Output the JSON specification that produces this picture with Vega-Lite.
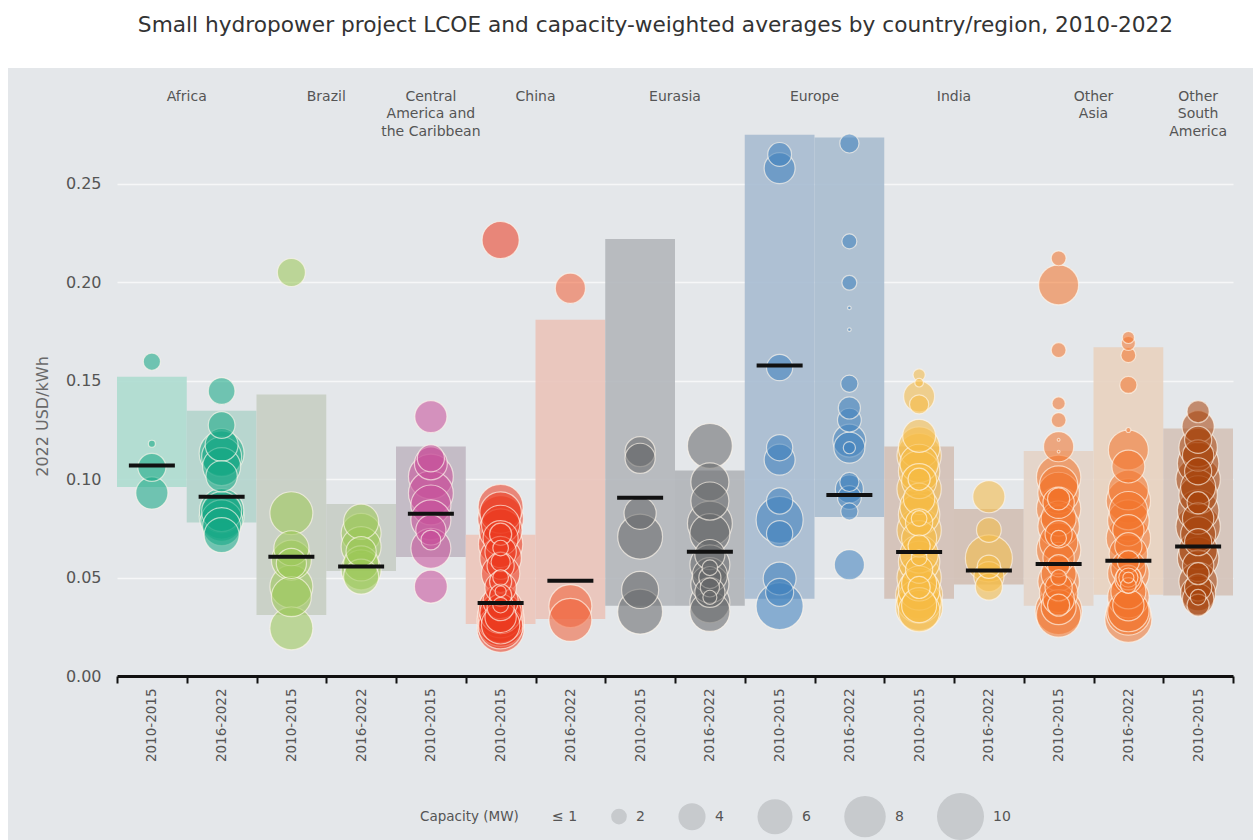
{
  "$schema": "https://vega.github.io/schema/vega-lite/v6.json",
  "width": 1245,
  "height": 772,
  "autosize": "none",
  "padding": {"left": 8, "top": 68, "right": 0, "bottom": 0},
  "background": "white",
  "title": {
    "text": "Small hydropower project LCOE and capacity-weighted averages by country/region, 2010-2022",
    "anchor": "middle",
    "font": "DejaVu Sans",
    "fontSize": 21.7,
    "fontWeight": "normal",
    "color": "#333333",
    "offset": 31,
    "dx": 25
  },
  "config": {
    "view": {"fill": "#e4e7ea", "stroke": null},
    "font": "DejaVu Sans"
  },
  "datasets": {
    "bands": [
      {"col": "Africa|2010-2015", "lo": 0.096, "hi": 0.152, "avg": 0.107},
      {"col": "Africa|2016-2022", "lo": 0.078, "hi": 0.1347, "avg": 0.0911},
      {"col": "Brazil|2010-2015", "lo": 0.031, "hi": 0.143, "avg": 0.0606},
      {"col": "Brazil|2016-2022", "lo": 0.0533, "hi": 0.0874, "avg": 0.0556},
      {"col": "Central America and the Caribbean|2010-2015", "lo": 0.0605, "hi": 0.1166, "avg": 0.0824},
      {"col": "China|2010-2015", "lo": 0.0264, "hi": 0.0718, "avg": 0.0371},
      {"col": "China|2016-2022", "lo": 0.029, "hi": 0.181, "avg": 0.0484},
      {"col": "Eurasia|2010-2015", "lo": 0.0357, "hi": 0.222, "avg": 0.0905},
      {"col": "Eurasia|2016-2022", "lo": 0.0357, "hi": 0.1044, "avg": 0.0631},
      {"col": "Europe|2010-2015", "lo": 0.0392, "hi": 0.275, "avg": 0.1577},
      {"col": "Europe|2016-2022", "lo": 0.0808, "hi": 0.2736, "avg": 0.092},
      {"col": "India|2010-2015", "lo": 0.0392, "hi": 0.1166, "avg": 0.063},
      {"col": "India|2016-2022", "lo": 0.0465, "hi": 0.0849, "avg": 0.0536},
      {"col": "Other Asia|2010-2015", "lo": 0.0357, "hi": 0.1143, "avg": 0.0569},
      {"col": "Other Asia|2016-2022", "lo": 0.0413, "hi": 0.167, "avg": 0.0585},
      {"col": "Other South America|2010-2015", "lo": 0.0409, "hi": 0.1257, "avg": 0.0658}
    ],
    "labels2": [
      {"col": "Africa|2010-2015", "t": "Africa"},
      {"col": "Brazil|2010-2015", "t": "Brazil"},
      {"col": "China|2010-2015", "t": "China"},
      {"col": "Eurasia|2010-2015", "t": "Eurasia"},
      {"col": "Europe|2010-2015", "t": "Europe"},
      {"col": "India|2010-2015", "t": "India"},
      {"col": "Other Asia|2010-2015", "t": "Other\nAsia"}
    ],
    "labels1": [
      {"col": "Central America and the Caribbean|2010-2015", "t": "Central\nAmerica and\nthe Caribbean"},
      {"col": "Other South America|2010-2015", "t": "Other\nSouth\nAmerica"}
    ],
    "bubbles": [
      {"col": "Africa|2010-2015", "v": 0.1597, "c": 2.2},
      {"col": "Africa|2010-2015", "v": 0.118, "c": 1.2},
      {"col": "Africa|2010-2015", "v": 0.106, "c": 4.2},
      {"col": "Africa|2010-2015", "v": 0.093, "c": 5.2},

      {"col": "Africa|2016-2022", "v": 0.1448, "c": 3.9},
      {"col": "Africa|2016-2022", "v": 0.1275, "c": 3.9},
      {"col": "Africa|2016-2022", "v": 0.1174, "c": 5.4},
      {"col": "Africa|2016-2022", "v": 0.1131, "c": 9.2},
      {"col": "Africa|2016-2022", "v": 0.1114, "c": 7.5},
      {"col": "Africa|2016-2022", "v": 0.1064, "c": 6.9},
      {"col": "Africa|2016-2022", "v": 0.1015, "c": 5.0},
      {"col": "Africa|2016-2022", "v": 0.0835, "c": 7.5},
      {"col": "Africa|2016-2022", "v": 0.084, "c": 9.0},
      {"col": "Africa|2016-2022", "v": 0.081, "c": 9.2},
      {"col": "Africa|2016-2022", "v": 0.079, "c": 8.0},
      {"col": "Africa|2016-2022", "v": 0.0759, "c": 6.9},
      {"col": "Africa|2016-2022", "v": 0.0716, "c": 6.0},

      {"col": "Brazil|2010-2015", "v": 0.205, "c": 4.2},
      {"col": "Brazil|2010-2015", "v": 0.0827, "c": 8.5},
      {"col": "Brazil|2010-2015", "v": 0.0649, "c": 6},
      {"col": "Brazil|2010-2015", "v": 0.0589, "c": 7.5},
      {"col": "Brazil|2010-2015", "v": 0.0572, "c": 4.7},
      {"col": "Brazil|2010-2015", "v": 0.0454, "c": 8.5},
      {"col": "Brazil|2010-2015", "v": 0.0403, "c": 7.5},
      {"col": "Brazil|2010-2015", "v": 0.0242, "c": 8.5},

      {"col": "Brazil|2016-2022", "v": 0.0784, "c": 6},
      {"col": "Brazil|2016-2022", "v": 0.0725, "c": 7.5},
      {"col": "Brazil|2016-2022", "v": 0.0657, "c": 7.5},
      {"col": "Brazil|2016-2022", "v": 0.0632, "c": 4.7},
      {"col": "Brazil|2016-2022", "v": 0.0572, "c": 6},
      {"col": "Brazil|2016-2022", "v": 0.0539, "c": 7.5},
      {"col": "Brazil|2016-2022", "v": 0.0505, "c": 6},

      {"col": "Central America and the Caribbean|2010-2015", "v": 0.1318, "c": 5.2},
      {"col": "Central America and the Caribbean|2010-2015", "v": 0.1106, "c": 4},
      {"col": "Central America and the Caribbean|2010-2015", "v": 0.108, "c": 5.4},
      {"col": "Central America and the Caribbean|2010-2015", "v": 0.1013, "c": 9.2},
      {"col": "Central America and the Caribbean|2010-2015", "v": 0.0928, "c": 9.2},
      {"col": "Central America and the Caribbean|2010-2015", "v": 0.0869, "c": 7.5},
      {"col": "Central America and the Caribbean|2010-2015", "v": 0.0793, "c": 7.5},
      {"col": "Central America and the Caribbean|2010-2015", "v": 0.0742, "c": 4.7},
      {"col": "Central America and the Caribbean|2010-2015", "v": 0.0691, "c": 2.6},
      {"col": "Central America and the Caribbean|2010-2015", "v": 0.0649, "c": 7.5},
      {"col": "Central America and the Caribbean|2010-2015", "v": 0.0454, "c": 5.4},

      {"col": "China|2010-2015", "v": 0.2215, "c": 6.6},
      {"col": "China|2010-2015", "v": 0.086, "c": 9.2},
      {"col": "China|2010-2015", "v": 0.083, "c": 8},
      {"col": "China|2010-2015", "v": 0.080, "c": 9.5},
      {"col": "China|2010-2015", "v": 0.077, "c": 7},
      {"col": "China|2010-2015", "v": 0.074, "c": 8.5},
      {"col": "China|2010-2015", "v": 0.070, "c": 6},
      {"col": "China|2010-2015", "v": 0.067, "c": 9},
      {"col": "China|2010-2015", "v": 0.063, "c": 5},
      {"col": "China|2010-2015", "v": 0.060, "c": 8},
      {"col": "China|2010-2015", "v": 0.056, "c": 4},
      {"col": "China|2010-2015", "v": 0.052, "c": 7},
      {"col": "China|2010-2015", "v": 0.048, "c": 3},
      {"col": "China|2010-2015", "v": 0.045, "c": 5},
      {"col": "China|2010-2015", "v": 0.041, "c": 3},
      {"col": "China|2010-2015", "v": 0.038, "c": 6},
      {"col": "China|2010-2015", "v": 0.035, "c": 4},
      {"col": "China|2010-2015", "v": 0.032, "c": 8},
      {"col": "China|2010-2015", "v": 0.030, "c": 5},
      {"col": "China|2010-2015", "v": 0.028, "c": 9},
      {"col": "China|2010-2015", "v": 0.026, "c": 7},
      {"col": "China|2010-2015", "v": 0.024, "c": 10},
      {"col": "China|2010-2015", "v": 0.027, "c": 10},
      {"col": "China|2010-2015", "v": 0.031, "c": 9.5},
      {"col": "China|2010-2015", "v": 0.034, "c": 9},
      {"col": "China|2010-2015", "v": 0.029, "c": 10},
      {"col": "China|2010-2015", "v": 0.025, "c": 9},
      {"col": "China|2010-2015", "v": 0.036, "c": 2},
      {"col": "China|2010-2015", "v": 0.043, "c": 1.5},
      {"col": "China|2010-2015", "v": 0.050, "c": 2},
      {"col": "China|2010-2015", "v": 0.058, "c": 2.5},
      {"col": "China|2010-2015", "v": 0.065, "c": 2},
      {"col": "China|2010-2015", "v": 0.072, "c": 3},

      {"col": "China|2016-2022", "v": 0.197, "c": 4.7},
      {"col": "China|2016-2022", "v": 0.0355, "c": 8.5},
      {"col": "China|2016-2022", "v": 0.0285, "c": 8.5},

      {"col": "Eurasia|2010-2015", "v": 0.114, "c": 4.7},
      {"col": "Eurasia|2010-2015", "v": 0.1106, "c": 4.7},
      {"col": "Eurasia|2010-2015", "v": 0.0827, "c": 5.2},
      {"col": "Eurasia|2010-2015", "v": 0.0708, "c": 9.2},
      {"col": "Eurasia|2010-2015", "v": 0.0437, "c": 6.6},
      {"col": "Eurasia|2010-2015", "v": 0.0327, "c": 9.2},

      {"col": "Eurasia|2016-2022", "v": 0.1169, "c": 9.2},
      {"col": "Eurasia|2016-2022", "v": 0.0986, "c": 6.9},
      {"col": "Eurasia|2016-2022", "v": 0.0889, "c": 6.9},
      {"col": "Eurasia|2016-2022", "v": 0.0775, "c": 9.2},
      {"col": "Eurasia|2016-2022", "v": 0.0723, "c": 7.5},
      {"col": "Eurasia|2016-2022", "v": 0.0617, "c": 4.7},
      {"col": "Eurasia|2016-2022", "v": 0.0565, "c": 7.5},
      {"col": "Eurasia|2016-2022", "v": 0.0512, "c": 6},
      {"col": "Eurasia|2016-2022", "v": 0.0468, "c": 6.9},
      {"col": "Eurasia|2016-2022", "v": 0.0425, "c": 4.7},
      {"col": "Eurasia|2016-2022", "v": 0.0372, "c": 7.5},
      {"col": "Eurasia|2016-2022", "v": 0.0328, "c": 7.5},
      {"col": "Eurasia|2016-2022", "v": 0.055, "c": 2},
      {"col": "Eurasia|2016-2022", "v": 0.045, "c": 2.5},
      {"col": "Eurasia|2016-2022", "v": 0.040, "c": 1.8},
      {"col": "Eurasia|2016-2022", "v": 0.050, "c": 3},

      {"col": "Europe|2010-2015", "v": 0.265, "c": 3.3},
      {"col": "Europe|2010-2015", "v": 0.258, "c": 4.9},
      {"col": "Europe|2010-2015", "v": 0.1567, "c": 3.8},
      {"col": "Europe|2010-2015", "v": 0.116, "c": 3.8},
      {"col": "Europe|2010-2015", "v": 0.1099, "c": 4.9},
      {"col": "Europe|2010-2015", "v": 0.0889, "c": 3.8},
      {"col": "Europe|2010-2015", "v": 0.0793, "c": 10},
      {"col": "Europe|2010-2015", "v": 0.0723, "c": 3.8},
      {"col": "Europe|2010-2015", "v": 0.0495, "c": 5.4},
      {"col": "Europe|2010-2015", "v": 0.0425, "c": 4.2},
      {"col": "Europe|2010-2015", "v": 0.0355, "c": 10},

      {"col": "Europe|2016-2022", "v": 0.2706, "c": 2.5},
      {"col": "Europe|2016-2022", "v": 0.2208, "c": 1.9},
      {"col": "Europe|2016-2022", "v": 0.1998, "c": 1.9},
      {"col": "Europe|2016-2022", "v": 0.187, "c": 1.05},
      {"col": "Europe|2016-2022", "v": 0.176, "c": 1.05},
      {"col": "Europe|2016-2022", "v": 0.1485, "c": 2.2},
      {"col": "Europe|2016-2022", "v": 0.1362, "c": 3},
      {"col": "Europe|2016-2022", "v": 0.13, "c": 3.3},
      {"col": "Europe|2016-2022", "v": 0.1196, "c": 5.4},
      {"col": "Europe|2016-2022", "v": 0.116, "c": 4.9},
      {"col": "Europe|2016-2022", "v": 0.116, "c": 1.6},
      {"col": "Europe|2016-2022", "v": 0.0986, "c": 2.5},
      {"col": "Europe|2016-2022", "v": 0.095, "c": 4.2},
      {"col": "Europe|2016-2022", "v": 0.0907, "c": 3.3},
      {"col": "Europe|2016-2022", "v": 0.0836, "c": 2.2},
      {"col": "Europe|2016-2022", "v": 0.0565, "c": 4.7},

      {"col": "India|2010-2015", "v": 0.153, "c": 1.6},
      {"col": "India|2010-2015", "v": 0.149, "c": 1.3},
      {"col": "India|2010-2015", "v": 0.142, "c": 4.9},
      {"col": "India|2010-2015", "v": 0.138, "c": 2.5},
      {"col": "India|2010-2015", "v": 0.122, "c": 5.4},
      {"col": "India|2010-2015", "v": 0.116, "c": 8},
      {"col": "India|2010-2015", "v": 0.112, "c": 9},
      {"col": "India|2010-2015", "v": 0.108, "c": 7},
      {"col": "India|2010-2015", "v": 0.104, "c": 8},
      {"col": "India|2010-2015", "v": 0.099, "c": 6},
      {"col": "India|2010-2015", "v": 0.095, "c": 9},
      {"col": "India|2010-2015", "v": 0.090, "c": 5},
      {"col": "India|2010-2015", "v": 0.086, "c": 7},
      {"col": "India|2010-2015", "v": 0.082, "c": 8},
      {"col": "India|2010-2015", "v": 0.078, "c": 4},
      {"col": "India|2010-2015", "v": 0.074, "c": 9},
      {"col": "India|2010-2015", "v": 0.070, "c": 6},
      {"col": "India|2010-2015", "v": 0.066, "c": 3},
      {"col": "India|2010-2015", "v": 0.062, "c": 7},
      {"col": "India|2010-2015", "v": 0.058, "c": 8},
      {"col": "India|2010-2015", "v": 0.054, "c": 4},
      {"col": "India|2010-2015", "v": 0.050, "c": 9},
      {"col": "India|2010-2015", "v": 0.047, "c": 6},
      {"col": "India|2010-2015", "v": 0.044, "c": 8},
      {"col": "India|2010-2015", "v": 0.041, "c": 10},
      {"col": "India|2010-2015", "v": 0.038, "c": 9},
      {"col": "India|2010-2015", "v": 0.035, "c": 10},
      {"col": "India|2010-2015", "v": 0.033, "c": 8},
      {"col": "India|2010-2015", "v": 0.036, "c": 6},
      {"col": "India|2010-2015", "v": 0.045, "c": 3},
      {"col": "India|2010-2015", "v": 0.060, "c": 2},
      {"col": "India|2010-2015", "v": 0.080, "c": 2},
      {"col": "India|2010-2015", "v": 0.100, "c": 3},

      {"col": "India|2016-2022", "v": 0.0911, "c": 5.2},
      {"col": "India|2016-2022", "v": 0.0742, "c": 3.5},
      {"col": "India|2016-2022", "v": 0.0598, "c": 10},
      {"col": "India|2016-2022", "v": 0.0555, "c": 3.2},
      {"col": "India|2016-2022", "v": 0.0505, "c": 4.7},
      {"col": "India|2016-2022", "v": 0.0454, "c": 4},

      {"col": "Other Asia|2010-2015", "v": 0.2122, "c": 1.9},
      {"col": "Other Asia|2010-2015", "v": 0.1987, "c": 7.5},
      {"col": "Other Asia|2010-2015", "v": 0.1656, "c": 1.9},
      {"col": "Other Asia|2010-2015", "v": 0.1385, "c": 1.7},
      {"col": "Other Asia|2010-2015", "v": 0.130, "c": 1.9},
      {"col": "Other Asia|2010-2015", "v": 0.1165, "c": 4.7},
      {"col": "Other Asia|2010-2015", "v": 0.12, "c": 1.03},
      {"col": "Other Asia|2010-2015", "v": 0.114, "c": 1.03},
      {"col": "Other Asia|2010-2015", "v": 0.101, "c": 9},
      {"col": "Other Asia|2010-2015", "v": 0.097, "c": 7},
      {"col": "Other Asia|2010-2015", "v": 0.093, "c": 8},
      {"col": "Other Asia|2010-2015", "v": 0.088, "c": 5},
      {"col": "Other Asia|2010-2015", "v": 0.085, "c": 9},
      {"col": "Other Asia|2010-2015", "v": 0.080, "c": 6},
      {"col": "Other Asia|2010-2015", "v": 0.076, "c": 8},
      {"col": "Other Asia|2010-2015", "v": 0.072, "c": 4},
      {"col": "Other Asia|2010-2015", "v": 0.068, "c": 7},
      {"col": "Other Asia|2010-2015", "v": 0.064, "c": 9},
      {"col": "Other Asia|2010-2015", "v": 0.060, "c": 5},
      {"col": "Other Asia|2010-2015", "v": 0.056, "c": 3},
      {"col": "Other Asia|2010-2015", "v": 0.052, "c": 6},
      {"col": "Other Asia|2010-2015", "v": 0.048, "c": 8},
      {"col": "Other Asia|2010-2015", "v": 0.045, "c": 4},
      {"col": "Other Asia|2010-2015", "v": 0.042, "c": 7},
      {"col": "Other Asia|2010-2015", "v": 0.039, "c": 5},
      {"col": "Other Asia|2010-2015", "v": 0.036, "c": 3},
      {"col": "Other Asia|2010-2015", "v": 0.035, "c": 6},
      {"col": "Other Asia|2010-2015", "v": 0.031, "c": 9},
      {"col": "Other Asia|2010-2015", "v": 0.033, "c": 10},
      {"col": "Other Asia|2010-2015", "v": 0.050, "c": 2},
      {"col": "Other Asia|2010-2015", "v": 0.070, "c": 2},
      {"col": "Other Asia|2010-2015", "v": 0.090, "c": 3},

      {"col": "Other Asia|2016-2022", "v": 0.172, "c": 1.6},
      {"col": "Other Asia|2016-2022", "v": 0.169, "c": 1.8},
      {"col": "Other Asia|2016-2022", "v": 0.163, "c": 1.9},
      {"col": "Other Asia|2016-2022", "v": 0.1479, "c": 2.2},
      {"col": "Other Asia|2016-2022", "v": 0.125, "c": 1.1},
      {"col": "Other Asia|2016-2022", "v": 0.1148, "c": 7.5},
      {"col": "Other Asia|2016-2022", "v": 0.1064, "c": 5.4},
      {"col": "Other Asia|2016-2022", "v": 0.0945, "c": 7.5},
      {"col": "Other Asia|2016-2022", "v": 0.089, "c": 9},
      {"col": "Other Asia|2016-2022", "v": 0.084, "c": 7},
      {"col": "Other Asia|2016-2022", "v": 0.079, "c": 8},
      {"col": "Other Asia|2016-2022", "v": 0.074, "c": 5},
      {"col": "Other Asia|2016-2022", "v": 0.070, "c": 9},
      {"col": "Other Asia|2016-2022", "v": 0.066, "c": 4},
      {"col": "Other Asia|2016-2022", "v": 0.062, "c": 7},
      {"col": "Other Asia|2016-2022", "v": 0.058, "c": 3},
      {"col": "Other Asia|2016-2022", "v": 0.055, "c": 6},
      {"col": "Other Asia|2016-2022", "v": 0.052, "c": 8},
      {"col": "Other Asia|2016-2022", "v": 0.049, "c": 4},
      {"col": "Other Asia|2016-2022", "v": 0.046, "c": 2},
      {"col": "Other Asia|2016-2022", "v": 0.043, "c": 6},
      {"col": "Other Asia|2016-2022", "v": 0.040, "c": 8},
      {"col": "Other Asia|2016-2022", "v": 0.036, "c": 5},
      {"col": "Other Asia|2016-2022", "v": 0.032, "c": 9},
      {"col": "Other Asia|2016-2022", "v": 0.029, "c": 10},
      {"col": "Other Asia|2016-2022", "v": 0.033, "c": 8},
      {"col": "Other Asia|2016-2022", "v": 0.050, "c": 1.5},
      {"col": "Other Asia|2016-2022", "v": 0.050, "c": 2.5},
      {"col": "Other Asia|2016-2022", "v": 0.050, "c": 3.5},

      {"col": "Other South America|2010-2015", "v": 0.1343, "c": 3},
      {"col": "Other South America|2010-2015", "v": 0.1267, "c": 5.2},
      {"col": "Other South America|2010-2015", "v": 0.12, "c": 4},
      {"col": "Other South America|2010-2015", "v": 0.116, "c": 7},
      {"col": "Other South America|2010-2015", "v": 0.112, "c": 5},
      {"col": "Other South America|2010-2015", "v": 0.108, "c": 8},
      {"col": "Other South America|2010-2015", "v": 0.104, "c": 4},
      {"col": "Other South America|2010-2015", "v": 0.100, "c": 9},
      {"col": "Other South America|2010-2015", "v": 0.096, "c": 6},
      {"col": "Other South America|2010-2015", "v": 0.092, "c": 7},
      {"col": "Other South America|2010-2015", "v": 0.088, "c": 3},
      {"col": "Other South America|2010-2015", "v": 0.084, "c": 8},
      {"col": "Other South America|2010-2015", "v": 0.080, "c": 5},
      {"col": "Other South America|2010-2015", "v": 0.076, "c": 9},
      {"col": "Other South America|2010-2015", "v": 0.072, "c": 6},
      {"col": "Other South America|2010-2015", "v": 0.068, "c": 4},
      {"col": "Other South America|2010-2015", "v": 0.064, "c": 7},
      {"col": "Other South America|2010-2015", "v": 0.060, "c": 8},
      {"col": "Other South America|2010-2015", "v": 0.056, "c": 5},
      {"col": "Other South America|2010-2015", "v": 0.052, "c": 3},
      {"col": "Other South America|2010-2015", "v": 0.048, "c": 7},
      {"col": "Other South America|2010-2015", "v": 0.045, "c": 4},
      {"col": "Other South America|2010-2015", "v": 0.042, "c": 6},
      {"col": "Other South America|2010-2015", "v": 0.039, "c": 5},
      {"col": "Other South America|2010-2015", "v": 0.036, "c": 3},
      {"col": "Other South America|2010-2015", "v": 0.040, "c": 2}
    ]
  },
  "layer": [
    {
      "data": {"name": "bands"},
      "mark": {"type": "bar", "opacity": 0.9},
      "encoding": {
        "x": {
          "field": "col", "type": "nominal", "sort": null,
          "scale": {
            "domain": ["Africa|2010-2015","Africa|2016-2022","Brazil|2010-2015","Brazil|2016-2022","Central America and the Caribbean|2010-2015","China|2010-2015","China|2016-2022","Eurasia|2010-2015","Eurasia|2016-2022","Europe|2010-2015","Europe|2016-2022","India|2010-2015","India|2016-2022","Other Asia|2010-2015","Other Asia|2016-2022","Other South America|2010-2015"],
            "range": [109, 1225],
            "paddingInner": 0, "paddingOuter": 0
          },
          "axis": {
            "title": null,
            "orient": "bottom",
            "offset": -164,
            "labelExpr": "split(datum.label, '|')[1]",
            "labelAngle": -90,
            "labelFontSize": 13.5,
            "labelColor": "#555555",
            "labelPadding": 5,
            "domainColor": "#111111",
            "domainWidth": 3,
            "tickColor": "#111111",
            "tickWidth": 2,
            "tickSize": 7,
            "tickBand": "extent",
            "grid": false
          }
        },
        "y": {
          "field": "lo", "type": "quantitative",
          "scale": {"domain": [0, 0.3089], "range": [608, 0], "nice": false},
          "axis": {
            "title": "2022 USD/kWh",
            "orient": "left",
            "offset": -109,
            "values": [0, 0.05, 0.1, 0.15, 0.2, 0.25],
            "format": ".2f",
            "labelFontSize": 16,
            "labelColor": "#555555",
            "labelPadding": 16,
            "ticks": false,
            "domain": false,
            "grid": true,
            "gridColor": "#f6f7f8",
            "gridWidth": 1.5,
            "titleFontSize": 16,
            "titleFontWeight": "normal",
            "titleColor": "#6a6a6a",
            "titleX": -75,
            "titleY": 348,
            "titleBaseline": "middle",
            "titleAngle": -90
          }
        },
        "y2": {"field": "hi"},
        "fill": {
          "field": "col", "type": "nominal", "legend": null,
          "scale": {
            "domain": ["Africa|2010-2015","Africa|2016-2022","Brazil|2010-2015","Brazil|2016-2022","Central America and the Caribbean|2010-2015","China|2010-2015","China|2016-2022","Eurasia|2010-2015","Eurasia|2016-2022","Europe|2010-2015","Europe|2016-2022","India|2010-2015","India|2016-2022","Other Asia|2010-2015","Other Asia|2016-2022","Other South America|2010-2015"],
            "range": ["#addbcf","#b2d4cc","#c6cec3","#c6cdc5","#c0b7c2","#ecc5ba","#eac3b9","#b2b6ba","#b0b4b8","#a7bbd0","#a8bccf","#d3c0b6","#d2bfb4","#e3d3c7","#e8d1bf","#d4c2b8"]
          }
        }
      }
    },
    {
      "data": {"name": "bubbles"},
      "mark": {"type": "circle", "opacity": 1, "fillOpacity": 0.56, "stroke": "#fff8ec", "strokeWidth": 1.2, "strokeOpacity": 0.65},
      "encoding": {
        "x": {"field": "col", "type": "nominal", "sort": null},
        "y": {"field": "v", "type": "quantitative"},
        "size": {
          "field": "c", "type": "quantitative",
          "scale": {"domain": [1, 10], "range": [0, 2209], "zero": false},
          "legend": {
            "title": "Capacity (MW)",
            "orient": "none",
            "legendX": 412,
            "legendY": 725,
            "direction": "horizontal",
            "titleOrient": "left",
            "titleFontSize": 13.5,
            "titleFontWeight": "normal",
            "titleColor": "#555555",
            "titlePadding": 10,
            "values": [1, 2, 4, 6, 8, 10],
            "labelExpr": "datum.value == 1 ? '\u2264 1' : datum.label",
            "labelFontSize": 14,
            "labelColor": "#555555",
            "labelOffset": 9,
            "columnPadding": 33,
            "symbolType": "circle",
            "symbolFillColor": "#c7cacd",
            "symbolStrokeWidth": 0,
            "symbolOpacity": 1
          }
        },
        "color": {
          "field": "col", "type": "nominal", "legend": null,
          "scale": {
            "domain": ["Africa|2010-2015","Africa|2016-2022","Brazil|2010-2015","Brazil|2016-2022","Central America and the Caribbean|2010-2015","China|2010-2015","China|2016-2022","Eurasia|2010-2015","Eurasia|2016-2022","Europe|2010-2015","Europe|2016-2022","India|2010-2015","India|2016-2022","Other Asia|2010-2015","Other Asia|2016-2022","Other South America|2010-2015"],
            "range": ["#14a884","#14a884","#9cc856","#9cc856","#c84e9a","#ec3a20","#f06038","#66676a","#66676a","#3f80bd","#3f80bd","#f6bb44","#f6bb44","#f2742a","#f2742a","#a8440c"]
          }
        },
        "order": {"field": "c", "type": "quantitative", "sort": "descending"}
      }
    },
    {
      "data": {"name": "bands"},
      "mark": {"type": "tick", "color": "#111111", "thickness": 4, "size": 46, "opacity": 1},
      "encoding": {
        "x": {"field": "col", "type": "nominal", "sort": null},
        "y": {"field": "avg", "type": "quantitative"}
      }
    },
    {
      "data": {"name": "labels2"},
      "mark": {"type": "text", "align": "center", "baseline": "top", "fontSize": 14, "color": "#555555", "lineBreak": "\n", "lineHeight": 17.5},
      "encoding": {
        "x": {"field": "col", "type": "nominal", "sort": null, "bandPosition": 1},
        "y": {"datum": 0.2978},
        "text": {"field": "t"}
      }
    },
    {
      "data": {"name": "labels1"},
      "mark": {"type": "text", "align": "center", "baseline": "top", "fontSize": 14, "color": "#555555", "lineBreak": "\n", "lineHeight": 17.5},
      "encoding": {
        "x": {"field": "col", "type": "nominal", "sort": null, "bandPosition": 0.5},
        "y": {"datum": 0.2978},
        "text": {"field": "t"}
      }
    }
  ]
}
